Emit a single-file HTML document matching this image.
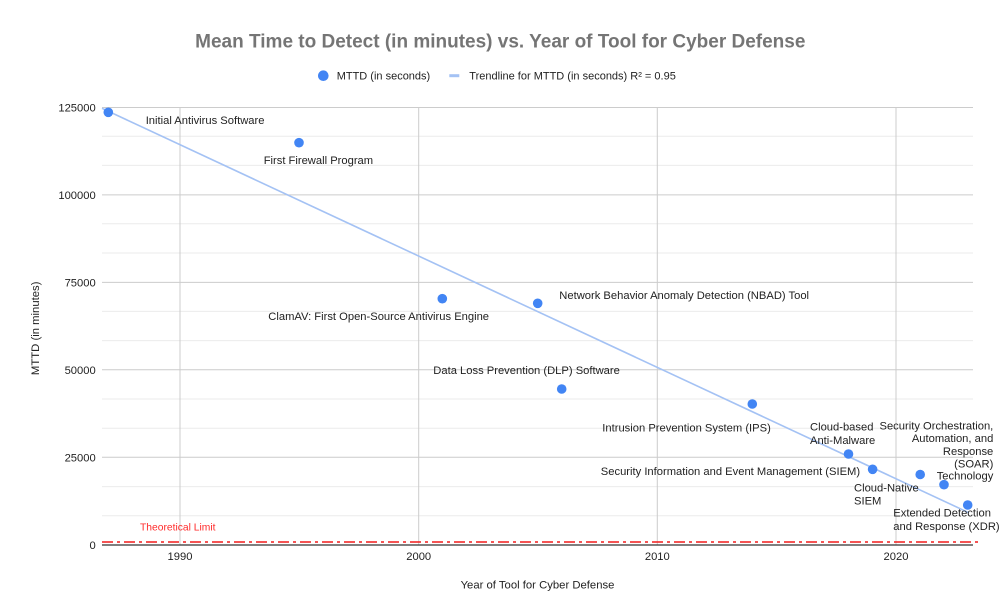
<!DOCTYPE html>
<html>
<head>
<meta charset="utf-8">
<style>
  html, body { margin:0; padding:0; background:#ffffff; }
  body { width:1002px; height:616px; overflow:hidden; }
  svg { display:block; font-family:"Liberation Sans", Arial, sans-serif; }
  .lbl { font-size:11.2px; fill:#222222; }
  .tick { font-size:11.2px; fill:#222222; }
</style>
</head>
<body>
<svg width="1002" height="616" viewBox="0 0 1002 616" xmlns="http://www.w3.org/2000/svg">
  <rect x="0" y="0" width="1002" height="616" fill="#ffffff"/>

  <!-- Title -->
  <text x="500.3" y="47.5" text-anchor="middle" font-size="19" font-weight="bold" fill="#757575">Mean Time to Detect (in minutes) vs. Year of Tool for Cyber Defense</text>

  <!-- Legend -->
  <circle cx="323.3" cy="75.7" r="5.3" fill="#4285f4"/>
  <text x="336.7" y="79.7" font-size="11" fill="#222222">MTTD (in seconds)</text>
  <rect x="449.3" y="74.2" width="10" height="3" fill="#a4c2f4"/>
  <text x="469.3" y="79.7" font-size="11" fill="#222222">Trendline for MTTD (in seconds) R² = 0.95</text>

  <!-- Minor horizontal gridlines -->
  <g stroke="#ebebeb" stroke-width="1">
    <line x1="102" y1="136.2" x2="973" y2="136.2"/>
    <line x1="102" y1="165.4" x2="973" y2="165.4"/>
    <line x1="102" y1="223.8" x2="973" y2="223.8"/>
    <line x1="102" y1="253.0" x2="973" y2="253.0"/>
    <line x1="102" y1="311.4" x2="973" y2="311.4"/>
    <line x1="102" y1="340.6" x2="973" y2="340.6"/>
    <line x1="102" y1="399.0" x2="973" y2="399.0"/>
    <line x1="102" y1="428.2" x2="973" y2="428.2"/>
    <line x1="102" y1="486.6" x2="973" y2="486.6"/>
    <line x1="102" y1="515.8" x2="973" y2="515.8"/>
  </g>
  <!-- Major horizontal gridlines -->
  <g stroke="#cccccc" stroke-width="1">
    <line x1="102" y1="107.5" x2="973" y2="107.5"/>
    <line x1="102" y1="194.9" x2="973" y2="194.9"/>
    <line x1="102" y1="282.4" x2="973" y2="282.4"/>
    <line x1="102" y1="369.8" x2="973" y2="369.8"/>
    <line x1="102" y1="457.3" x2="973" y2="457.3"/>
  </g>
  <!-- Vertical gridlines -->
  <g stroke="#cccccc" stroke-width="1">
    <line x1="180" y1="107" x2="180" y2="545"/>
    <line x1="418.7" y1="107" x2="418.7" y2="545"/>
    <line x1="657.3" y1="107" x2="657.3" y2="545"/>
    <line x1="896" y1="107" x2="896" y2="545"/>
  </g>

  <!-- Baseline -->
  <line x1="102" y1="545" x2="973" y2="545" stroke="#333333" stroke-width="1.3"/>

  <!-- Theoretical limit -->
  <line x1="102" y1="542" x2="980" y2="542" stroke="#f21b1b" stroke-width="1.6" stroke-dasharray="11,4,3,4"/>
  <text x="140" y="530.5" font-size="10.3" fill="#ff2a2a">Theoretical Limit</text>

  <!-- Y tick labels -->
  <g class="tick" text-anchor="end">
    <text x="95.7" y="111.5">125000</text>
    <text x="95.7" y="198.9">100000</text>
    <text x="95.7" y="286.4">75000</text>
    <text x="95.7" y="373.8">50000</text>
    <text x="95.7" y="461.3">25000</text>
    <text x="95.7" y="549">0</text>
  </g>

  <!-- X tick labels -->
  <g class="tick" text-anchor="middle">
    <text x="180" y="560">1990</text>
    <text x="418.7" y="560">2000</text>
    <text x="657.3" y="560">2010</text>
    <text x="896" y="560">2020</text>
  </g>

  <!-- Axis titles -->
  <text x="537.5" y="588.3" text-anchor="middle" font-size="11.3" fill="#222222">Year of Tool for Cyber Defense</text>
  <text transform="translate(39,328.3) rotate(-90)" text-anchor="middle" font-size="11.3" fill="#222222">MTTD (in minutes)</text>

  <!-- Trendline -->
  <line x1="102" y1="108.3" x2="969" y2="512.8" stroke="#a4c2f4" stroke-width="1.6"/>

  <!-- Data points -->
  <g fill="#4285f4">
    <circle cx="108.3" cy="112.3" r="4.8"/>
    <circle cx="299" cy="142.7" r="4.8"/>
    <circle cx="442.3" cy="298.7" r="4.8"/>
    <circle cx="537.7" cy="303.3" r="4.8"/>
    <circle cx="561.7" cy="389" r="4.8"/>
    <circle cx="752.3" cy="404" r="4.8"/>
    <circle cx="848.5" cy="454" r="4.8"/>
    <circle cx="872.6" cy="469.3" r="4.8"/>
    <circle cx="920.2" cy="474.5" r="4.8"/>
    <circle cx="944" cy="484.7" r="4.8"/>
    <circle cx="967.7" cy="505" r="4.8"/>
  </g>

  <!-- Data labels -->
  <g class="lbl">
    <text x="145.7" y="124">Initial Antivirus Software</text>
    <text x="263.7" y="164">First Firewall Program</text>
    <text x="268.3" y="320">ClamAV: First Open-Source Antivirus Engine</text>
    <text x="559.3" y="299">Network Behavior Anomaly Detection (NBAD) Tool</text>
    <text x="433.3" y="374">Data Loss Prevention (DLP) Software</text>
    <text x="602.3" y="431.7">Intrusion Prevention System (IPS)</text>
    <text x="600.8" y="475">Security Information and Event Management (SIEM)</text>
    <text x="810" y="430.7">Cloud-based</text>
    <text x="810" y="444">Anti-Malware</text>
    <text x="854" y="491.7">Cloud-Native</text>
    <text x="854" y="504.7">SIEM</text>
    <text x="893.3" y="516.3">Extended Detection</text>
    <text x="893.3" y="530">and Response (XDR)</text>
  </g>
  <g class="lbl" text-anchor="end">
    <text x="993.3" y="429.7">Security Orchestration,</text>
    <text x="993.3" y="442">Automation, and</text>
    <text x="993.3" y="455">Response</text>
    <text x="993.3" y="467.7">(SOAR)</text>
    <text x="993.3" y="479.3">Technology</text>
  </g>
</svg>
</body>
</html>
